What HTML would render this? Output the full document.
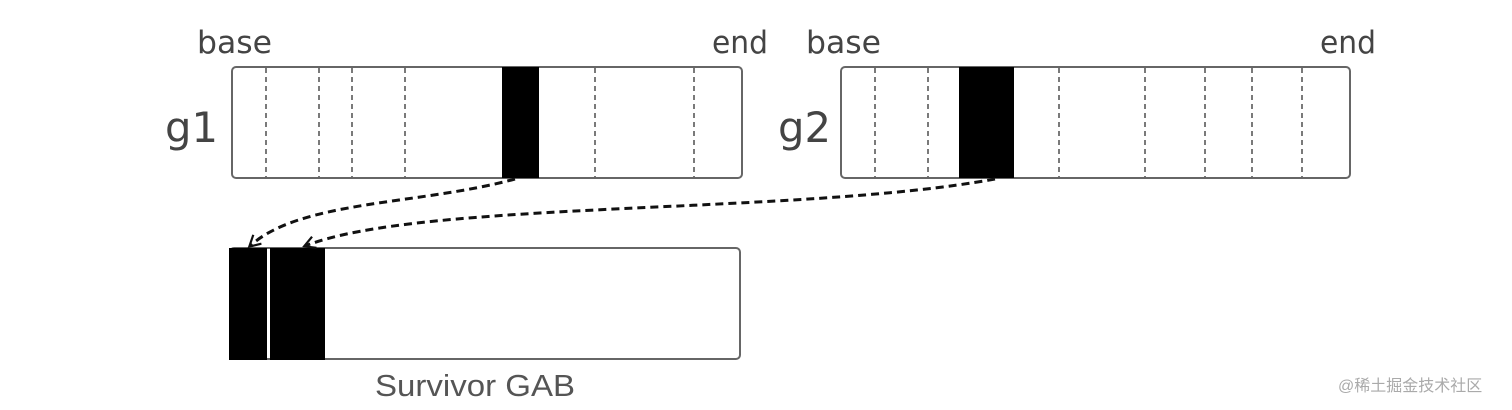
<!DOCTYPE html>
<html><head><meta charset="utf-8"><style>
html,body{margin:0;padding:0;background:#fff;}
svg{display:block}
</style></head><body>
<svg width="1512" height="410" viewBox="0 0 1512 410" xmlns="http://www.w3.org/2000/svg">
<defs>
<marker id="ah" markerWidth="14" markerHeight="14" refX="11" refY="7" orient="auto" markerUnits="userSpaceOnUse">
<path d="M1,1 L12,7 L1,13" fill="none" stroke="#111" stroke-width="2.2"/>
</marker>
</defs>
<g font-family="'DejaVu Sans','Liberation Sans',sans-serif" fill="#444">
<text x="197" y="53" font-size="31" textLength="75" lengthAdjust="spacingAndGlyphs">base</text>
<text x="712" y="53" font-size="31" textLength="56" lengthAdjust="spacingAndGlyphs">end</text>
<text x="806" y="53" font-size="31" textLength="75" lengthAdjust="spacingAndGlyphs">base</text>
<text x="1320" y="53" font-size="31" textLength="56" lengthAdjust="spacingAndGlyphs">end</text>
<text x="165" y="142" font-size="42" textLength="53" lengthAdjust="spacingAndGlyphs">g1</text>
<text x="778" y="142" font-size="42" textLength="53" lengthAdjust="spacingAndGlyphs">g2</text>
</g>
<text x="375" y="396" font-family="'Liberation Sans',sans-serif" font-size="31" fill="#555" textLength="200" lengthAdjust="spacingAndGlyphs">Survivor GAB</text>
<text x="1338" y="391" font-family="'Liberation Sans','Noto Sans CJK SC',sans-serif" font-size="16" fill="#aaa">@稀土掘金技术社区</text>

<!-- g1 -->
<rect x="232" y="67" width="510" height="111" rx="4" fill="#fff" stroke="#666" stroke-width="2"/>
<g stroke="#333" stroke-width="1.3" stroke-dasharray="5,4">
<line x1="266" y1="68" x2="266" y2="177"/><line x1="319" y1="68" x2="319" y2="177"/>
<line x1="352" y1="68" x2="352" y2="177"/><line x1="405" y1="68" x2="405" y2="177"/>
<line x1="595" y1="68" x2="595" y2="177"/><line x1="694" y1="68" x2="694" y2="177"/>
</g>
<rect x="502" y="67" width="37" height="111" fill="#000"/>

<!-- g2 -->
<rect x="841" y="67" width="509" height="111" rx="4" fill="#fff" stroke="#666" stroke-width="2"/>
<g stroke="#333" stroke-width="1.3" stroke-dasharray="5,4">
<line x1="875" y1="68" x2="875" y2="177"/><line x1="928" y1="68" x2="928" y2="177"/>
<line x1="1059" y1="68" x2="1059" y2="177"/><line x1="1145" y1="68" x2="1145" y2="177"/>
<line x1="1205" y1="68" x2="1205" y2="177"/><line x1="1252" y1="68" x2="1252" y2="177"/>
<line x1="1302" y1="68" x2="1302" y2="177"/>
</g>
<rect x="959" y="67" width="55" height="111" fill="#000"/>

<!-- survivor -->
<rect x="230" y="248" width="510" height="111" rx="4" fill="#fff" stroke="#666" stroke-width="2"/>
<rect x="229" y="248" width="38" height="112" fill="#000"/>
<rect x="270" y="248" width="55" height="112" fill="#000"/>

<!-- arrows -->
<g fill="none" stroke="#111" stroke-width="3" stroke-dasharray="8,5">
<path d="M515,179 C420,205 300,200 250,246" marker-end="url(#ah)"/>
<path d="M995,179 C800,215 420,200 305,246" marker-end="url(#ah)"/>
</g>
</svg>
</body></html>
